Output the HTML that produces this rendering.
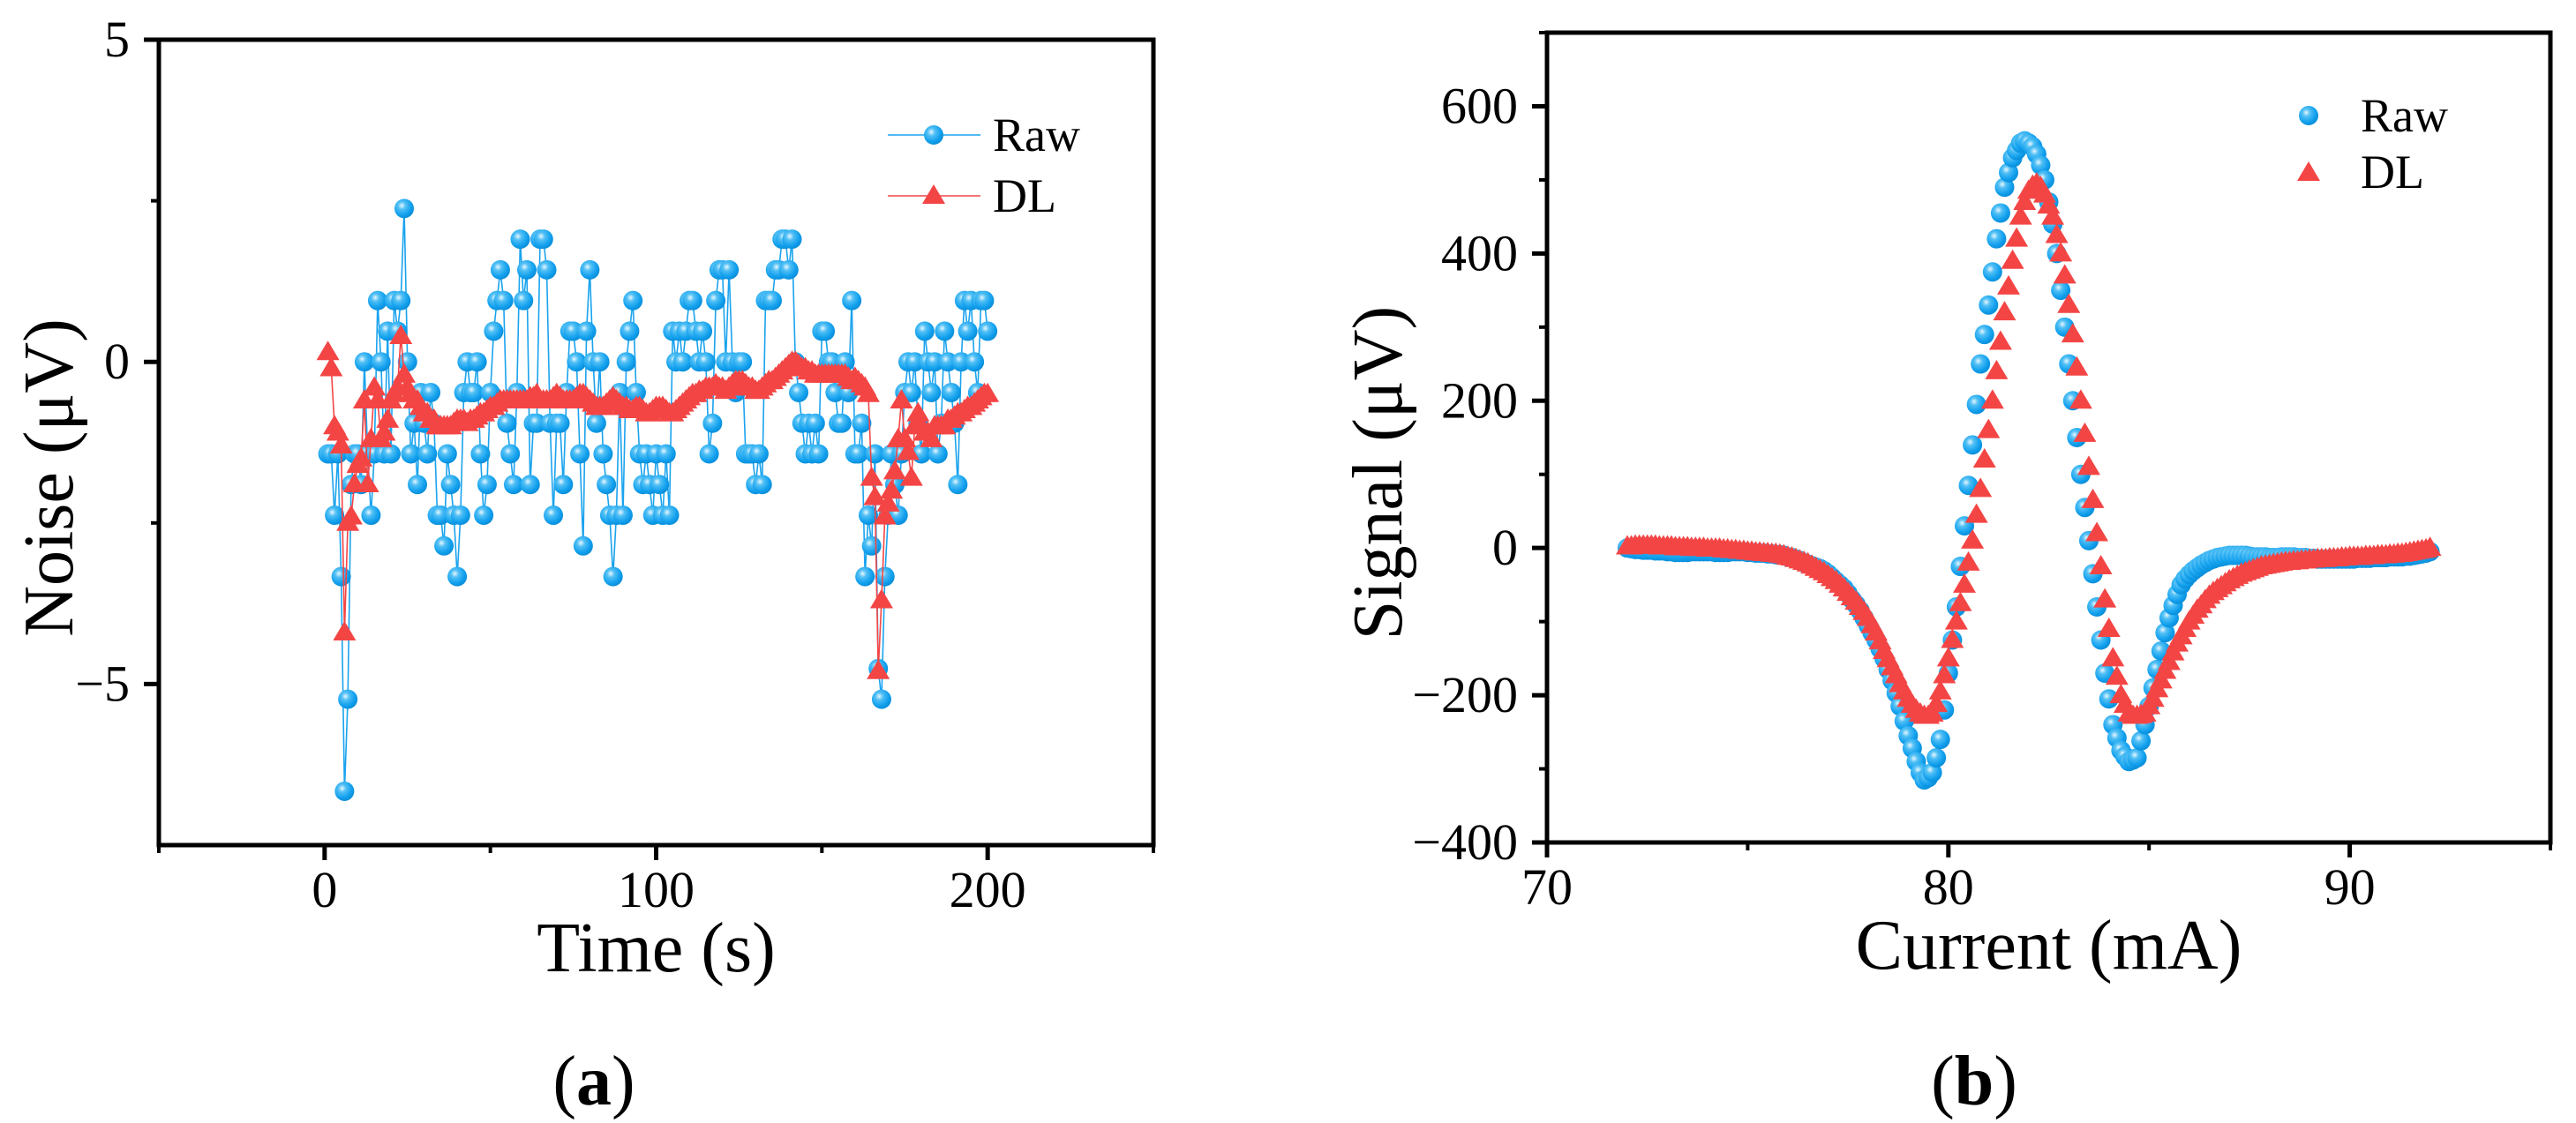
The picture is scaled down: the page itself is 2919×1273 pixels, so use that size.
<!DOCTYPE html>
<html><head><meta charset="utf-8"><style>
html,body{margin:0;padding:0;background:#fff;}
svg{display:block;}
svg text{font-family:"Liberation Serif",serif !important;}
</style></head><body>
<svg id="fig" width="2919" height="1273" viewBox="0 0 2919 1273" xmlns="http://www.w3.org/2000/svg">
<defs>
<radialGradient id="ball" cx="0.38" cy="0.35" r="0.65">
<stop offset="0" stop-color="#e8f7ff"/><stop offset="0.3" stop-color="#52c0f5"/><stop offset="0.75" stop-color="#12a0ee"/><stop offset="1" stop-color="#0a8fda"/>
</radialGradient>
</defs>
<g id="chartA"></g>
<g id="chartB"></g>
<text x="673" y="1252" style="font-family:'Liberation Serif',serif;font-size:80px" text-anchor="middle">(<tspan font-weight="bold">a</tspan>)</text>
<text x="2237" y="1252" style="font-family:'Liberation Serif',serif;font-size:80px" text-anchor="middle">(<tspan font-weight="bold">b</tspan>)</text>
</svg>
<script>
// ---- Chart A data ----
const timeStart = 1;
const rawLevels = [-3,-3,-5,-3,-7,-14,-11,-4,-3,-3,
-4,0,-3,-5,-3,2,0,-3,1,-3,
2,1,2,5,0,-3,-2,-4,-1,-2,
-3,-1,-2,-5,-5,-6,-3,-4,-5,-7,
-5,-1,0,-1,-1,0,-3,-5,-4,-1,
1,2,3,2,-2,-3,-4,-1,4,2,
3,-4,-2,-2,4,4,3,-2,-5,-2,
-2,-4,-1,1,1,0,-3,-6,1,3,
0,-2,0,-3,-4,-5,-7,-5,-1,-5,
0,1,2,-1,-3,-4,-3,-4,-5,-3,
-4,-5,-3,-5,1,0,1,0,1,2,
2,1,0,1,0,-3,-2,2,3,3,
0,3,0,-1,0,0,-3,-3,-3,-4,
-3,-4,2,2,2,3,3,4,4,3,
4,0,-1,-2,-3,-2,-3,-2,-3,1,
1,0,0,-1,-2,-2,0,-1,2,-3,
-3,-2,-7,-5,-6,-3,-10,-11,-7,-5,
-3,-4,-5,-3,-1,0,-1,0,-2,-3,
1,0,-1,0,-3,-2,1,0,-1,-2,
-4,0,2,1,2,0,-1,2,2,1];
const rawStep = 0.476;
const dlNoise = [0.15,-0.1,-1.0,-1.1,-1.3,-4.2,-2.5,-2.4,-1.9,-1.6,
-1.5,-0.6,-1.9,-1.2,-0.4,-0.6,-1.2,-1.1,-0.9,-0.6,
-0.5,-0.4,0.4,-0.2,-0.4,-0.5,-0.6,-0.6,-0.7,-0.8,
-0.8,-0.9,-0.9,-1.0,-1.0,-1.0,-1.0,-1.0,-0.95,-0.9,
-0.9,-0.9,-0.95,-0.9,-0.9,-0.85,-0.8,-0.8,-0.75,-0.7,
-0.7,-0.65,-0.6,-0.6,-0.6,-0.6,-0.6,-0.6,-0.6,-0.6,
-0.6,-0.55,-0.55,-0.5,-0.6,-0.6,-0.6,-0.6,-0.55,-0.5,
-0.55,-0.6,-0.6,-0.6,-0.6,-0.55,-0.5,-0.5,-0.55,-0.6,
-0.65,-0.7,-0.7,-0.7,-0.65,-0.6,-0.55,-0.6,-0.65,-0.7,
-0.7,-0.75,-0.75,-0.7,-0.7,-0.75,-0.8,-0.8,-0.75,-0.7,
-0.7,-0.7,-0.75,-0.8,-0.8,-0.75,-0.7,-0.65,-0.6,-0.55,
-0.5,-0.5,-0.45,-0.45,-0.4,-0.4,-0.4,-0.35,-0.4,-0.4,
-0.45,-0.4,-0.35,-0.3,-0.3,-0.3,-0.35,-0.4,-0.4,-0.45,
-0.45,-0.4,-0.35,-0.3,-0.3,-0.25,-0.2,-0.15,-0.1,-0.05,
0,0,-0.05,-0.1,-0.1,-0.15,-0.15,-0.2,-0.2,-0.2,
-0.2,-0.2,-0.2,-0.2,-0.2,-0.2,-0.2,-0.25,-0.3,-0.25,
-0.3,-0.35,-0.4,-0.5,-1.8,-2.1,-4.8,-3.7,-2.4,-2.2,
-2.0,-1.7,-1.2,-0.6,-1.2,-1.4,-1.8,-1.0,-0.8,-1.0,
-1.1,-1.1,-1.2,-1.0,-1.0,-1.0,-1.0,-0.9,-0.9,-0.85,
-0.8,-0.8,-0.75,-0.7,-0.7,-0.65,-0.6,-0.55,-0.5,-0.5];
const aXTicks = [0,100,200];
const aXMinor = [-50,50,150,250];
const aYTicks = [5,0,-5];
const aYMinor = [2.5,-2.5];

// ---- Chart B data ----
const currentX = [72.0,72.1,72.2,72.3,72.4,72.5,72.6,72.7,72.8,72.9,73.0,73.1,73.2,73.3,73.4,73.5,73.6,73.7,73.8,73.9,
74.0,74.1,74.2,74.3,74.4,74.5,74.6,74.7,74.8,74.9,75.0,75.1,75.2,75.3,75.4,75.5,75.6,75.7,75.8,75.9,
76.0,76.1,76.2,76.3,76.4,76.5,76.6,76.7,76.8,76.9,77.0,77.1,77.2,77.3,77.4,77.5,77.6,77.7,77.8,77.9,
78.0,78.1,78.2,78.3,78.4,78.5,78.6,78.7,78.8,78.9,79.0,79.1,79.2,79.3,79.4,79.5,79.6,79.7,79.8,79.9,
80.0,80.1,80.2,80.3,80.4,80.5,80.6,80.7,80.8,80.9,81.0,81.1,81.2,81.3,81.4,81.5,81.6,81.7,81.8,81.9,
82.0,82.1,82.2,82.3,82.4,82.5,82.6,82.7,82.8,82.9,83.0,83.1,83.2,83.3,83.4,83.5,83.6,83.7,83.8,83.9,
84.0,84.1,84.2,84.3,84.4,84.5,84.6,84.7,84.8,84.9,85.0,85.1,85.2,85.3,85.4,85.5,85.6,85.7,85.8,85.9,
86.0,86.1,86.2,86.3,86.4,86.5,86.6,86.7,86.8,86.9,87.0,87.1,87.2,87.3,87.4,87.5,87.6,87.7,87.8,87.9,
88.0,88.1,88.2,88.3,88.4,88.5,88.6,88.7,88.8,88.9,89.0,89.1,89.2,89.3,89.4,89.5,89.6,89.7,89.8,89.9,
90.0,90.1,90.2,90.3,90.4,90.5,90.6,90.7,90.8,90.9,91.0,91.1,91.2,91.3,91.4,91.5,91.6,91.7,91.8,91.9,92.0];
const rawSignal = [0,-1,-2,-2,-3,-3,-3,-4,-4,-4,-5,-5,-6,-6,-6,-6,-5,-5,-5,-5,
-5,-5,-6,-6,-6,-6,-5,-5,-5,-5,-6,-6,-7,-7,-7,-8,-8,-9,-9,-10,
-12,-13,-15,-17,-20,-22,-24,-26,-28,-31,-35,-40,-45,-50,-55,-62,-70,-77,-85,-95,
-105,-115,-125,-137,-150,-165,-180,-197,-215,-235,-255,-272,-290,-305,-315,-312,-305,-285,-260,-220,
-170,-125,-80,-25,30,85,140,195,250,290,330,375,420,455,490,510,530,540,550,553,
550,545,535,520,500,470,440,400,350,300,250,200,150,100,55,10,-35,-80,-125,-170,
-205,-240,-258,-275,-283,-290,-288,-285,-262,-240,-215,-190,-165,-140,-115,-95,-78,-63,-50,-42,
-36,-31,-27,-23,-20,-17,-15,-13,-12,-11,-10,-10,-10,-10,-10,-11,-12,-12,-12,-12,
-13,-13,-13,-12,-12,-12,-12,-13,-13,-13,-14,-14,-15,-15,-15,-15,-15,-15,-15,-15,
-15,-15,-14,-14,-14,-14,-13,-13,-13,-13,-12,-12,-12,-12,-11,-11,-10,-9,-8,-7,-5];
const dlSignal = [2,2,3,3,3,3,3,3,2,2,2,2,1,1,1,1,0,0,0,0,
-1,-1,-1,-1,-2,-2,-3,-3,-4,-4,-5,-5,-6,-6,-7,-7,-8,-8,-9,-10,
-12,-13,-15,-17,-19,-21,-24,-27,-30,-33,-37,-41,-45,-50,-55,-61,-67,-73,-80,-87,
-95,-105,-115,-127,-140,-151,-162,-173,-185,-195,-205,-213,-220,-225,-228,-228,-225,-212,-195,-173,
-150,-125,-100,-75,-50,-20,10,45,80,120,160,200,240,280,320,355,390,420,450,470,
485,492,495,490,480,465,450,425,400,370,330,290,245,200,155,110,65,20,-25,-70,
-110,-150,-175,-200,-213,-225,-228,-228,-227,-225,-215,-205,-192,-180,-167,-155,-142,-130,-120,-110,
-100,-92,-84,-78,-71,-65,-60,-56,-52,-48,-44,-41,-38,-35,-33,-31,-29,-27,-25,-24,
-23,-22,-21,-20,-19,-19,-18,-18,-17,-17,-16,-16,-15,-15,-15,-14,-14,-14,-13,-13,
-12,-12,-12,-12,-11,-11,-11,-10,-10,-10,-9,-9,-8,-8,-7,-6,-5,-4,-3,-2,0];
const bXTicks = [70,80,90];
const bXMinor = [75,85,95];
const bYTicks = [600,400,200,0,-200,-400];
const bYMinor = [700,500,300,100,-100,-300];

const NS = "http://www.w3.org/2000/svg";
function mk(parent, tag, attrs, text){
  const e = document.createElementNS(NS, tag);
  for (const k in attrs) e.setAttribute(k, attrs[k]);
  if (text !== undefined) e.textContent = text;
  parent.appendChild(e);
  return e;
}
function txt(parent, x, y, size, anchor, str, extra){
  const e = mk(parent,'text',Object.assign({x:x,y:y,'text-anchor':anchor},extra||{}),str);
  e.setAttribute('style',`font-family:'Liberation Serif',serif;font-size:${size}px`);
  return e;
}
function circ(g, cx, cy){
  const c = mk(g,'circle',{cx:cx,cy:cy,r:11,fill:'url(#ball)'});
  
  
}
function tri(g, cx, cy){
  const p = mk(g,'polygon',{points:`${cx-13},${cy+9} ${cx+13},${cy+9} ${cx},${cy-13}`,fill:'#f44545'});
  
  
}

function drawAxes(g, L, R, T, B, sx, sy, xt, xm, yt, ym, xlab, ylab, ylabX){
  const frame = mk(g,'rect',{x:L,y:T,width:R-L,height:B-T,fill:'none',stroke:'#000','stroke-width':5});
  
  
  xt.forEach(v=>{
    const x=sx(v);
    mk(g,'line',{x1:x,y1:B,x2:x,y2:B+17,stroke:'#000','stroke-width':5});
    const t=txt(g,x,B+70,58,'middle',String(v));
    
    
  });
  xm.forEach(v=>{const x=sx(v);mk(g,'line',{x1:x,y1:B,x2:x,y2:B+9,stroke:'#000','stroke-width':4});});
  yt.forEach(v=>{
    const y=sy(v);
    mk(g,'line',{x1:L,y1:y,x2:L-17,y2:y,stroke:'#000','stroke-width':5});
    const t=txt(g,L-33,y+19,58,'end',(v<0?'\u2212'+Math.abs(v):String(v)));
    
    
  });
  ym.forEach(v=>{const y=sy(v);mk(g,'line',{x1:L,y1:y,x2:L-9,y2:y,stroke:'#000','stroke-width':4});});
  const xl=txt(g,(L+R)/2,B+143,80,'middle',xlab);
  
  
  const cy=(T+B)/2+40;
  const yl=txt(g,ylabX,cy,80,'middle',ylab,{transform:`rotate(-90 ${ylabX} ${cy})`});
  
  
}

// Chart A
(function(){
  const g=document.getElementById('chartA');
  const L=180,R=1307,T=45,B=958;
  const sx=v=>L+(v+50)/300*(R-L);
  const sy=v=>T+(5-v)/12.5*(B-T);
  drawAxes(g,L,R,T,B,sx,sy,aXTicks,aXMinor,aYTicks,aYMinor,'Time (s)','Noise (\u03bcV)',82);
  const rawPts=rawLevels.map((l,i)=>[sx(timeStart+i),sy(l*rawStep)]);
  const dlPts=dlNoise.map((v,i)=>[sx(timeStart+i),sy(v)]);
  const rl=mk(g,'polyline',{points:rawPts.map(p=>p.join(',')).join(' '),fill:'none',stroke:'#1aa3ee','stroke-width':1.6});
  
  
  rawPts.forEach(p=>circ(g,p[0],p[1]));
  const dl=mk(g,'polyline',{points:dlPts.map(p=>p.join(',')).join(' '),fill:'none',stroke:'#f44545','stroke-width':1.6});
  
  
  dlPts.forEach(p=>tri(g,p[0],p[1]));
  const lg=mk(g,'g',{});
  
  
  mk(lg,'line',{x1:1006,y1:153,x2:1111,y2:153,stroke:'#1aa3ee','stroke-width':1.6});
  circ(lg,1058,153);
  txt(lg,1125,171,54,'start','Raw');
  mk(lg,'line',{x1:1006,y1:222,x2:1111,y2:222,stroke:'#f44545','stroke-width':1.6});
  tri(lg,1058,222);
  txt(lg,1125,240,54,'start','DL');
})();

// Chart B
(function(){
  const g=document.getElementById('chartB');
  const L=1753,R=2890,T=37,B=955;
  const sx=v=>L+(v-70)/25*(R-L);
  const sy=v=>T+(700-v)/1100*(B-T);
  drawAxes(g,L,R,T,B,sx,sy,bXTicks,bXMinor,bYTicks,bYMinor,'Current (mA)','Signal (\u03bcV)',1588);
  currentX.forEach((x,i)=>circ(g,sx(x),sy(rawSignal[i])));
  currentX.forEach((x,i)=>tri(g,sx(x),sy(dlSignal[i])));
  const lg=mk(g,'g',{});
  
  
  circ(lg,2616,131);
  txt(lg,2675,149,54,'start','Raw');
  tri(lg,2616,196);
  txt(lg,2675,213,54,'start','DL');
})();
</script>
</body></html>
